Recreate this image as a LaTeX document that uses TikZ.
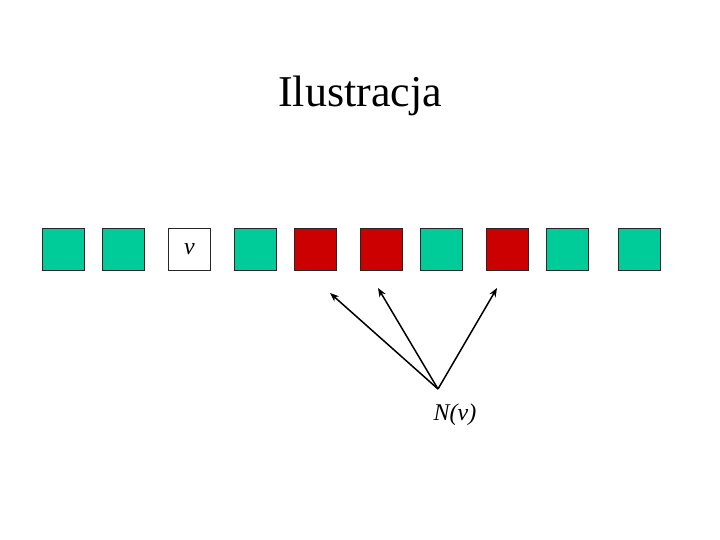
\documentclass[tikz,border=0pt]{standalone}
\usepackage{fontspec}
\setmainfont{Liberation Serif}
\usetikzlibrary{arrows.meta}
\definecolor{cellgreen}{RGB}{0,204,153}
\definecolor{cellred}{RGB}{204,0,0}

\begin{document}
\begin{tikzpicture}[x=1pt,y=-1pt,
    every node/.style={font=\fontsize{24}{28}\selectfont\itshape},
    cell/.style={draw=black!85,line width=0.9pt,minimum size=42pt,inner sep=0pt,
                 anchor=north west},
    pointer/.style={-{Stealth[length=9pt,width=7pt]},line width=1.5pt}]
  \useasboundingbox (0,0) rectangle (720,540);
  \node[font=\fontsize{44}{50}\selectfont] (title) at (360,96) {Ilustracja};
  \foreach \x/\c/\n in {42/cellgreen/c1,102/cellgreen/c2,168/white/c3,
                        234/cellgreen/c4,294/cellred/c5,360/cellred/c6,
                        420/cellgreen/c7,486/cellred/c8,546/cellgreen/c9,
                        618/cellgreen/c10}
    \node[cell,fill=\c] (\n) at (\x,228) {};
  \node (vlabel) at (c3) {v};
  % neighbourhood of v
  \coordinate (nv) at (438,389);
  \coordinate (t1) at (330,293);
  \coordinate (t2) at (378,288);
  \coordinate (t3) at (497,288);
  \node (nvlabel) at (455,415) {N(v)};
  \foreach \t in {t1,t2,t3}
    \draw[pointer] (nv) -- (\t);
\end{tikzpicture}
\end{document}
